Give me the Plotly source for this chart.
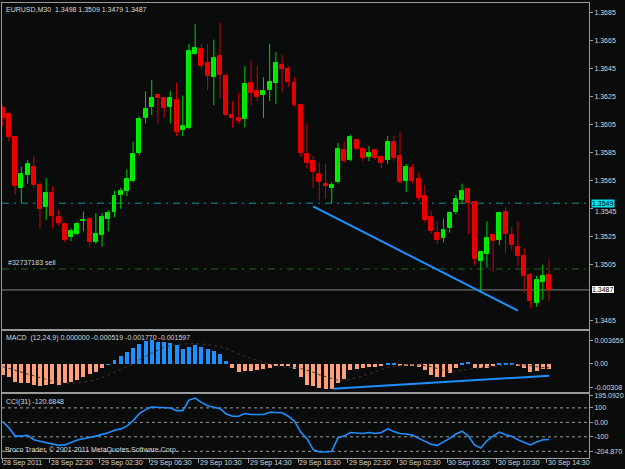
import plotly.graph_objects as go

# ---------------- data ----------------
opens = [1.3617, 1.3613, 1.3596, 1.3560, 1.3569, 1.3575, 1.3562, 1.3546, 1.3556, 1.3539,
         1.3534, 1.3525, 1.3527, 1.3536, 1.3538, 1.3521, 1.3526, 1.3538, 1.3543, 1.3555,
         1.3558, 1.3565, 1.3585, 1.3610, 1.3618, 1.3626, 1.3624, 1.3618, 1.3623, 1.3601,
         1.3603, 1.3656, 1.3659, 1.3649, 1.3639, 1.3654, 1.3640, 1.3612, 1.3610, 1.3609,
         1.3635, 1.3629, 1.3626, 1.3630, 1.3635, 1.3648, 1.3645, 1.3635, 1.3619, 1.3584,
         1.3579, 1.3570, 1.3563, 1.3560, 1.3564, 1.3587, 1.3580, 1.3594, 1.3588, 1.3582,
         1.3587, 1.3582, 1.3580, 1.3593, 1.3583, 1.3565, 1.3574, 1.3566, 1.3554, 1.3539,
         1.3528, 1.3524, 1.3531, 1.3543, 1.3551, 1.3559, 1.3550, 1.3508, 1.3513, 1.3526,
         1.3523, 1.3543, 1.3526, 1.3518, 1.3511, 1.3498, 1.3478, 1.3493, 1.3498]
highs = [1.3619, 1.3614, 1.3597, 1.3575, 1.3580, 1.3583, 1.3564, 1.3567, 1.3561, 1.3544,
         1.3535, 1.3531, 1.3536, 1.3543, 1.3539, 1.3542, 1.3542, 1.3544, 1.3558, 1.3560,
         1.3573, 1.3593, 1.3611, 1.3629, 1.3637, 1.3627, 1.3624, 1.3629, 1.3635, 1.3626,
         1.3663, 1.3677, 1.3663, 1.3663, 1.3666, 1.3678, 1.3642, 1.3622, 1.3628, 1.3647,
         1.3651, 1.3647, 1.3639, 1.3663, 1.3657, 1.3655, 1.3647, 1.3639, 1.3620, 1.3606,
         1.3583, 1.3578, 1.3577, 1.3564, 1.3592, 1.3593, 1.3598, 1.3595, 1.3589, 1.3590,
         1.3588, 1.3583, 1.3597, 1.3597, 1.3600, 1.3577, 1.3577, 1.3571, 1.3562, 1.3544,
         1.3536, 1.3538, 1.3543, 1.3555, 1.3563, 1.3560, 1.3550, 1.3515, 1.3536, 1.3527,
         1.3543, 1.3546, 1.3532, 1.3536, 1.3517, 1.3499, 1.3497, 1.3505, 1.3509]
lows = [1.3604, 1.3593, 1.3555, 1.3549, 1.3563, 1.3560, 1.3531, 1.3537, 1.3531, 1.3533,
        1.3521, 1.3522, 1.3526, 1.3529, 1.3518, 1.3520, 1.3518, 1.3529, 1.3539, 1.3545,
        1.3554, 1.3564, 1.3583, 1.3606, 1.3612, 1.3606, 1.3610, 1.3606, 1.3597, 1.3597,
        1.3602, 1.3655, 1.3645, 1.3630, 1.3619, 1.3624, 1.3611, 1.3603, 1.3606, 1.3603,
        1.3619, 1.3622, 1.3610, 1.3622, 1.3620, 1.3628, 1.3632, 1.3618, 1.3582, 1.3574,
        1.3560, 1.3551, 1.3552, 1.3549, 1.3563, 1.3578, 1.3579, 1.3587, 1.3579, 1.3579,
        1.3580, 1.3574, 1.3577, 1.3579, 1.3563, 1.3557, 1.3563, 1.3551, 1.3535, 1.3527,
        1.3520, 1.3521, 1.3528, 1.3541, 1.3549, 1.3527, 1.3505, 1.3486, 1.3503, 1.3500,
        1.3519, 1.3513, 1.3515, 1.3504, 1.3485, 1.3474, 1.3475, 1.3480, 1.3479]
closes = [1.3610, 1.3596, 1.3561, 1.3570, 1.3577, 1.3562, 1.3545, 1.3556, 1.3540, 1.3535,
          1.3523, 1.3529, 1.3534, 1.3537, 1.3521, 1.3527, 1.3539, 1.3542, 1.3554, 1.3558,
          1.3566, 1.3584, 1.3609, 1.3616, 1.3624, 1.3624, 1.3617, 1.3624, 1.3600, 1.3604,
          1.3658, 1.3660, 1.3647, 1.3640, 1.3653, 1.3641, 1.3612, 1.3610, 1.3608, 1.3634,
          1.3628, 1.3625, 1.3629, 1.3636, 1.3649, 1.3645, 1.3636, 1.3619, 1.3585, 1.3578,
          1.3571, 1.3564, 1.3561, 1.3562, 1.3588, 1.3579, 1.3596, 1.3588, 1.3581, 1.3585,
          1.3581, 1.3578, 1.3593, 1.3581, 1.3564, 1.3575, 1.3565, 1.3553, 1.3537, 1.3529,
          1.3523, 1.3530, 1.3542, 1.3552, 1.3558, 1.3549, 1.3509, 1.3514, 1.3524, 1.3522,
          1.3542, 1.3527, 1.3519, 1.3511, 1.3497, 1.3479, 1.3494, 1.3497, 1.3487]

macd_hist = [-0.00118, -0.00136, -0.00191, -0.00202, -0.00209, -0.00227, -0.00238, -0.00231, -0.00216, -0.00227,
             -0.00209, -0.00191, -0.00166, -0.00136, -0.00107, -0.00082, -0.00045, 0.00002, 0.00053, 0.00089,
             0.00136, 0.00184, 0.00220, 0.00256, 0.00264, 0.00246, 0.00246, 0.00235, 0.00209, 0.00173,
             0.00191, 0.00209, 0.00191, 0.00173, 0.00147, 0.00118, 0.00035, -0.00045, -0.00082, -0.00071,
             -0.00071, -0.00064, -0.00056, -0.00045, -0.00020, -0.00020, -0.00016, -0.00056, -0.00144, -0.00227,
             -0.00238, -0.00264, -0.00275, -0.00275, -0.00202, -0.00155, -0.00064, -0.00056, -0.00035, -0.00027,
             -0.00027, -0.00020, 0.00016, 0.00009, -0.00020, -0.00020, -0.00020, -0.00027, -0.00064, -0.00118,
             -0.00144, -0.00144, -0.00100, -0.00045, 0.00020, 0.00027, -0.00045, -0.00045, -0.00045, -0.00020,
             0.00016, 0.00016, 0.00016, -0.00009, -0.00045, -0.00082, -0.00075, -0.00056, -0.00052]
macd_signal = [-0.0003, -0.0005, -0.0007, -0.0009, -0.0011, -0.0013, -0.0015, -0.0017, -0.0019, -0.0020,
               -0.0021, -0.0021, -0.0021, -0.0020, -0.0019, -0.0017, -0.0015, -0.0012, -0.0009, -0.0006,
               -0.0003, 0.0000, 0.0004, 0.0008, 0.0012, 0.0015, 0.0018, 0.0020, 0.0021, 0.0022,
               0.0022, 0.0022, 0.0022, 0.0021, 0.0020, 0.0019, 0.0017, 0.0014, 0.0011, 0.0008,
               0.0006, 0.0004, 0.0002, 0.0000, -0.0002, -0.0003, -0.0004, -0.0004, -0.0005, -0.0007,
               -0.0009, -0.0012, -0.0014, -0.0016, -0.0018, -0.0018, -0.0017, -0.0015, -0.0013, -0.0011,
               -0.0009, -0.0006, -0.0004, -0.0003, -0.0002, -0.0001, -0.0001, -0.0001, -0.0002, -0.0003,
               -0.0005, -0.0007, -0.0008, -0.0008, -0.0007, -0.0006, -0.0005, -0.0004, -0.0003, -0.0003,
               -0.0002, -0.0001, -0.0001, -0.0001, -0.0001, -0.0002, -0.0003, -0.0004, -0.0004]
cci = [4, -38, -95, -95, -89, -120, -131, -140, -152, -159,
       -156, -140, -122, -113, -106, -95, -83, -72, -54, -45,
       -26, 12, 60, 88, 106, 102, 99, 99, 81, 81,
       154, 168, 138, 115, 104, 95, 58, 42, 42, 61,
       54, 52, 54, 70, 70, 66, 42, 8, -67, -113,
       -187, -205, -205, -200, -106, -95, -70, -72, -77, -70,
       -77, -70, -45, -63, -77, -81, -88, -111, -134, -152,
       -159, -136, -111, -81, -61, -95, -156, -177, -127, -95,
       -67, -86, -97, -120, -140, -156, -136, -120, -118]

time_labels = ["28 Sep 2011", "28 Sep 22:30", "29 Sep 02:30", "29 Sep 06:30", "29 Sep 10:30",
               "29 Sep 14:30", "29 Sep 18:30", "29 Sep 22:30", "30 Sep 02:30", "30 Sep 06:30",
               "30 Sep 10:30", "30 Sep 14:30"]
time_label_bars = [0, 8, 16, 24, 32, 40, 48, 56, 64, 72, 80, 88]
price_ticks = [1.3685, 1.3665, 1.3645, 1.3625, 1.3605, 1.3585, 1.3565, 1.3545, 1.3525, 1.3505, 1.3465]
hidden_price_tick = 1.3545   # partly covered by the 1.3549 marker in the reference
macd_tick_vals = [0.00256, 0.0, -0.00256]
macd_tick_text = ["0.003656", "0.00", "-0.00308"]
cci_tick_vals = [185, 100, 0, -100, -200]
cci_tick_text = ["195.0920", "100", "0.00", "-100", "-204.870"]
cci_levels = [100, 0, -100, -200]

level_cyan = 1.3549
level_order = 1.3502
level_bid = 1.3487
trend_price_bars = [50.0, 83.0]
trend_price_vals = [1.35467, 1.34722]
trend_macd_bars = [53.2, 88.0]
trend_macd_vals = [-0.00271, -0.00129]

# ---------------- styling ----------------
BG = "#0a0c0c"
FG = "#d6d6d6"
BORDER = "#9a9a9a"
BULL = "#00f000"
BEAR = "#f00000"
BULL_WICK = "#00d000"
BEAR_WICK = "#d00000"
FONT = "Liberation Sans, Arial, sans-serif"

n = len(opens)
idx = list(range(n))

fig = go.Figure()

# wicks
for up, col in ((True, BULL_WICK), (False, BEAR_WICK)):
    wx, wy = [], []
    for i in idx:
        if (closes[i] >= opens[i]) == up:
            wx += [i, i, None]
            wy += [lows[i], highs[i], None]
    fig.add_trace(go.Scatter(x=wx, y=wy, mode="lines", line=dict(color=col, width=1),
                             hoverinfo="skip", showlegend=False, xaxis="x", yaxis="y"))

# bodies
for up, col in ((True, BULL), (False, BEAR)):
    bx = [i for i in idx if (closes[i] >= opens[i]) == up]
    fig.add_trace(go.Bar(x=bx,
                         y=[abs(closes[i] - opens[i]) for i in bx],
                         base=[min(opens[i], closes[i]) for i in bx],
                         width=0.64, marker=dict(color=col, line=dict(color=col, width=1)),
                         showlegend=False, xaxis="x", yaxis="y"))

# price trend line
fig.add_trace(go.Scatter(x=trend_price_bars, y=trend_price_vals, mode="lines",
                         line=dict(color="#1e90ff", width=2), showlegend=False,
                         xaxis="x", yaxis="y"))

# MACD histogram
pos = [i for i in idx if macd_hist[i] >= 0]
neg = [i for i in idx if macd_hist[i] < 0]
fig.add_trace(go.Bar(x=pos, y=[macd_hist[i] for i in pos], width=0.64,
                     marker=dict(color="#1e90ff", line=dict(width=0)),
                     showlegend=False, xaxis="x2", yaxis="y2"))
fig.add_trace(go.Bar(x=neg, y=[macd_hist[i] for i in neg], width=0.64,
                     marker=dict(color="#ffa07a", line=dict(width=0)),
                     showlegend=False, xaxis="x2", yaxis="y2"))
fig.add_trace(go.Scatter(x=idx, y=macd_signal, mode="lines",
                         line=dict(color="#46322a", width=1, dash="dot"),
                         showlegend=False, xaxis="x2", yaxis="y2"))
fig.add_trace(go.Scatter(x=trend_macd_bars, y=trend_macd_vals, mode="lines",
                         line=dict(color="#1e90ff", width=2), showlegend=False,
                         xaxis="x2", yaxis="y2"))

# CCI
fig.add_trace(go.Scatter(x=idx, y=cci, mode="lines", line=dict(color="#1e90ff", width=1.6),
                         showlegend=False, xaxis="x3", yaxis="y3"))

# ---------------- shapes ----------------
shapes = [
    dict(type="line", xref="paper", x0=0, x1=1, yref="y", y0=level_cyan, y1=level_cyan,
         line=dict(color="#13909c", width=1, dash="7px,5px,2px,5px"), layer="below"),
    dict(type="line", xref="paper", x0=0, x1=1, yref="y", y0=level_order, y1=level_order,
         line=dict(color="#1f6a1f", width=1, dash="7px,5px,2px,5px"), layer="below"),
    dict(type="line", xref="paper", x0=0, x1=1, yref="y", y0=level_bid, y1=level_bid,
         line=dict(color="#808080", width=1), layer="below"),
]
for lv in cci_levels:
    shapes.append(dict(type="line", xref="paper", x0=0, x1=1, yref="y3", y0=lv, y1=lv,
                       line=dict(color="#9a9a9a", width=1, dash="3px,3px"), layer="below"))

# ---------------- layout ----------------
W, H = 625, 469
ml, mr, mt, mb = 2, 32, 1, 11
ph = H - mt - mb
x_range = [-0.12, 94.44]


def pdom(top_px, bot_px):
    return [(H - mb - bot_px) / ph, (H - mb - top_px) / ph]


def py(px):
    return (H - mb - px) / ph


def pxp(px):
    return (px - ml) / (W - ml - mr)


def bar_to_paper(b):
    return max(0.0, (b - x_range[0]) / (x_range[1] - x_range[0]))


axis_common = dict(showgrid=False, zeroline=False, showline=True, mirror=True,
                   linecolor=BORDER, linewidth=1)
tickfont = dict(family=FONT, size=7, color=FG)

annotations = []


def note(text, x, y, **kw):
    d = dict(text=text, x=x, y=y, xref="paper", yref="paper", showarrow=False,
             xanchor="left", yanchor="middle", font=dict(family=FONT, size=7, color=FG))
    d.update(kw)
    annotations.append(d)


note("EURUSD,M30&nbsp;&nbsp;1.3498 1.3509 1.3479 1.3487", pxp(4), py(7.5))
note("#32737183 sell", pxp(6), py(262))
note("MACD&nbsp;&nbsp;(12,24,9) 0.000000 -0.000519 -0.001770 -0.001597", pxp(4), py(337.5))
note("CCI(31) -120.6848", pxp(4), py(401.5))
note("Broco Trader, © 2001-2011 MetaQuotes Software Corp.", pxp(3), py(449.5))
for b, t in zip(time_label_bars, time_labels):
    note(t, bar_to_paper(b - 0.4), py(463.5), xshift=-1)

# price label peeking out below the cyan marker
annotations.append(dict(text="%.4f" % hidden_price_tick, x=1, y=hidden_price_tick,
                        xref="paper", yref="y", xanchor="left", yanchor="middle",
                        xshift=5, yshift=-3, showarrow=False, borderpad=0,
                        font=dict(family=FONT, size=7, color=FG)))
annotations.append(dict(text="1.3549", x=1, y=level_cyan, xref="paper", yref="y",
                        xanchor="left", yanchor="middle", xshift=2, showarrow=False,
                        bgcolor="#00e4ee", borderpad=0,
                        font=dict(family=FONT, size=7, color="#000000")))
annotations.append(dict(text="1.3487", x=1, y=level_bid, xref="paper", yref="y",
                        xanchor="left", yanchor="middle", xshift=2, showarrow=False,
                        bgcolor="#ffffff", bordercolor="#000000", borderwidth=1, borderpad=0,
                        font=dict(family=FONT, size=7, color="#000000")))

price_ticktext = ["" if v == hidden_price_tick else "%.4f" % v for v in price_ticks]

fig.update_layout(
    width=W, height=H,
    margin=dict(l=ml, r=mr, t=mt, b=mb, pad=0),
    paper_bgcolor=BG, plot_bgcolor=BG,
    barmode="overlay", bargap=0,
    showlegend=False,
    font=dict(family=FONT, size=7, color=FG),
    xaxis=dict(domain=[0, 1], anchor="y", range=x_range, showticklabels=False, ticks="",
               **axis_common),
    xaxis2=dict(domain=[0, 1], anchor="y2", matches="x", showticklabels=False, ticks="",
                **axis_common),
    xaxis3=dict(domain=[0, 1], anchor="y3", matches="x", showticklabels=False,
                ticks="outside", ticklen=4, tickcolor=BORDER,
                tickvals=[max(b - 0.4, x_range[0]) for b in time_label_bars], **axis_common),
    yaxis=dict(domain=pdom(1, 328), anchor="x", range=[1.345938, 1.369212], side="right",
               tickvals=price_ticks, ticktext=price_ticktext,
               ticks="outside", ticklen=3, tickcolor=BORDER, tickfont=tickfont,
               **axis_common),
    yaxis2=dict(domain=pdom(330, 392), anchor="x2", range=[-0.00311, 0.003656], side="right",
                tickvals=macd_tick_vals, ticktext=macd_tick_text,
                ticks="outside", ticklen=3, tickcolor=BORDER, tickfont=tickfont,
                **axis_common),
    yaxis3=dict(domain=pdom(394, 458), anchor="x3", range=[-246.4, 194.1], side="right",
                tickvals=cci_tick_vals, ticktext=cci_tick_text,
                ticks="outside", ticklen=3, tickcolor=BORDER, tickfont=tickfont,
                **axis_common),
    shapes=shapes,
    annotations=annotations,
)

fig.write_html("out.html")
